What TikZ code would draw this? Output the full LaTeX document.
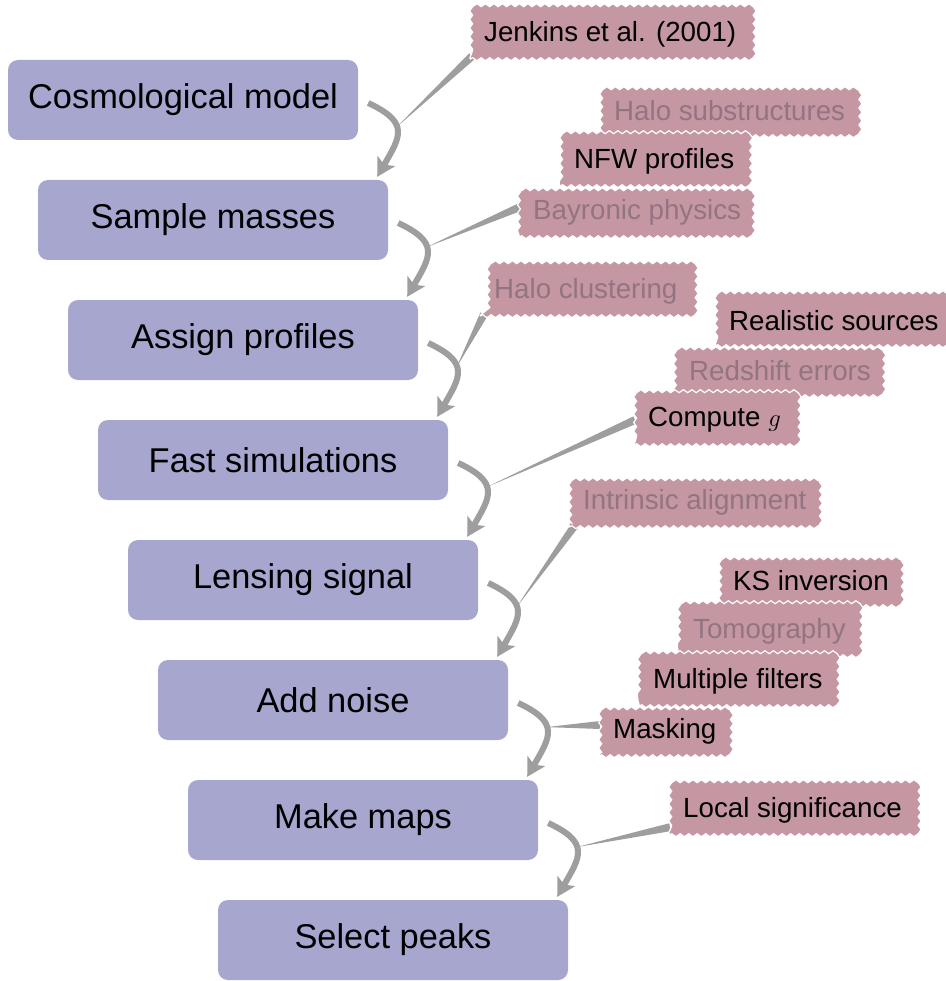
\documentclass[tikz,border=0pt]{standalone}
\usepackage{fontspec}
\setmainfont{Liberation Sans}
\usetikzlibrary{arrows.meta,calc,decorations.pathmorphing,backgrounds}
\definecolor{boxcol}{RGB}{166,166,207}
\definecolor{tagcol}{RGB}{196,151,163}
\definecolor{fadecol}{RGB}{147,116,129}
\definecolor{arrcol}{RGB}{158,158,158}
\begin{document}
\begin{tikzpicture}[x=1pt,y=1pt,
 stage/.style={fill=boxcol, rounded corners=10pt, minimum width=350pt, minimum height=80pt, inner sep=0pt, font=\fontsize{34.4}{40}\selectfont},
 tag/.style={minimum height=50pt, inner xsep=14pt, inner ysep=0pt, anchor=west, font=\fontsize{27.7}{32}\selectfont},
 faded/.style={tag, text=fadecol},
 tagbg/.style={fill=tagcol, draw=white, line width=1.2pt, decorate, decoration={snake, segment length=8.5pt, amplitude=1.5pt}},
 flow/.style={draw=arrcol, line width=6pt, -{Stealth[length=18pt,width=20pt,inset=4pt]}},
 wedge/.style={fill=arrcol}]
\useasboundingbox (0,0) rectangle (945,-981);
% stages
\node[stage] (b1) at (183,-100) {Cosmological model};
\node[stage] (b2) at (213,-220) {Sample masses};
\node[stage] (b3) at (243,-340) {Assign profiles};
\node[stage] (b4) at (273,-460) {Fast simulations};
\node[stage] (b5) at (303,-580) {Lensing signal};
\node[stage] (b6) at (333,-700) {Add noise};
\node[stage] (b7) at (363,-820) {Make maps};
\node[stage] (b8) at (393,-940) {Select peaks};
% flow arrows
\foreach \a/\b/\m in {b1/b2/m1,b2/b3/m2,b3/b4/m3,b4/b5/m4,b5/b6/m5,b6/b7/m6,b7/b8/m7}{
  \draw[flow] ($(\a.east)+(10,-3)$) to[out=-25,in=60,looseness=1.6] coordinate[pos=0.42] (\m) ($(\b.north east)+(-11,3)$);
}
% tags
\node[tag]   (t1)  at (470,-34)  {Jenkins et al. (2001)};
\node[faded] (t2)  at (600,-111) {Halo substructures};
\node[tag]   (t3)  at (560,-161) {NFW profiles};
\node[faded] (t4)  at (519,-212) {Bayronic physics};
\node[faded] (t5)  at (480,-291) {Halo clustering};
\node[tag]   (t6)  at (715,-321) {Realistic sources};
\node[faded] (t7)  at (675,-371) {Redshift errors};
\node[tag]   (t8)  at (634,-420) {Compute $g$};
\node[faded] (t9)  at (569,-502) {Intrinsic alignment};
\node[tag]   (t10) at (719,-581) {KS inversion};
\node[faded] (t11) at (679,-631) {Tomography};
\node[tag]   (t12) at (639,-681) {Multiple filters};
\node[tag]   (t13) at (599,-731) {Masking};
\node[tag]   (t14) at (669,-810) {Local significance};
% attach points
\coordinate (p1) at ($(t1.south west)+(2,3)$);
\coordinate (p2) at ($(t4.west)+(1,5)$);
\coordinate (p3) at ($(t5.south west)+(4,2)$);
\coordinate (p4) at ($(t8.west)+(1,0)$);
\coordinate (p5) at ($(t9.south west)+(6,2)$);
\coordinate (p6) at ($(t13.west)+(1,6)$);
\coordinate (p7) at ($(t14.south west)+(1,8)$);
\begin{pgfonlayer}{background}
\foreach \p/\m in {p1/m1,p2/m2,p3/m3,p4/m4,p5/m5,p6/m6,p7/m7}{
  \fill[wedge] ($(\p)!4pt!90:(\m)$) -- (\m) -- ($(\p)!4pt!-90:(\m)$) -- cycle;
}
\foreach \t in {t1,t2,t3,t4,t5,t6,t7,t8,t9,t10,t11,t12,t13,t14}{
  \path[tagbg] (\t.south west) -- (\t.south east) -- (\t.north east) -- (\t.north west) -- cycle;
}
\end{pgfonlayer}
\end{tikzpicture}
\end{document}
